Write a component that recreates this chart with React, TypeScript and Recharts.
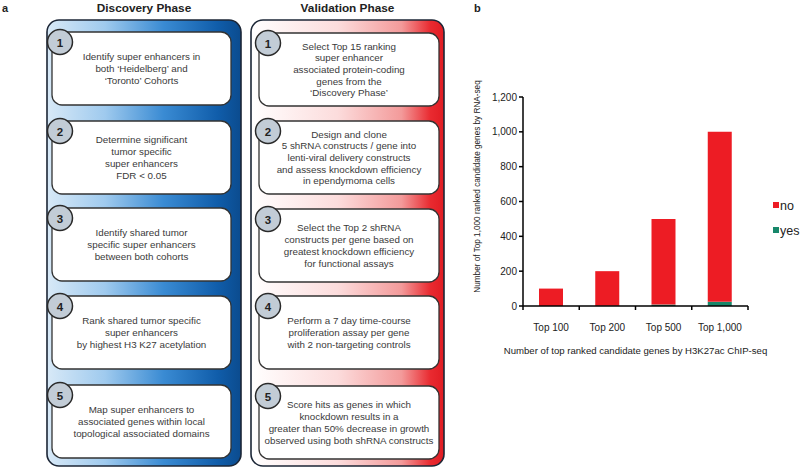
import React from 'react';
import { BarChart, Bar, XAxis, YAxis, Label } from 'recharts';

const categories = ['Top 100', 'Top 200', 'Top 500', 'Top 1,000'];
const yesValues = [0, 1, 8, 24];
const noValues = [100, 199, 492, 976];
const yTicks = [0, 200, 400, 600, 800, 1000, 1200];
const seriesNames = ['no', 'yes'];

const discoverySteps = [
  ['Identify super enhancers in', 'both \u2018Heidelberg\u2019 and', '\u2018Toronto\u2019 Cohorts'],
  ['Determine significant', 'tumor specific', 'super enhancers', 'FDR < 0.05'],
  ['Identify shared tumor', 'specific super enhancers', 'between both cohorts'],
  ['Rank shared tumor specific', 'super enhancers', 'by highest H3 K27 acetylation'],
  ['Map super enhancers to', 'associated genes within local', 'topological associated domains'],
];
const validationSteps = [
  ['Select Top 15 ranking', 'super enhancer', 'associated protein-coding', 'genes from the', '\u2018Discovery Phase\u2019'],
  ['Design and clone', '5 shRNA constructs / gene into', 'lenti-viral delivery constructs', 'and assess knockdown efficiency', 'in ependymoma cells'],
  ['Select the Top 2 shRNA', 'constructs per gene based on', 'greatest knockdown efficiency', 'for functional assays'],
  ['Perform a 7 day time-course', 'proliferation assay per gene', 'with 2 non-targeting controls'],
  ['Score hits as genes in which', 'knockdown results in a', 'greater than 50% decrease in growth', 'observed using both shRNA constructs'],
];

const data = categories.map((c, i) => ({ name: c, yes: yesValues[i], no: noValues[i] }));

const RED = '#ED1C24';
const GREEN = '#17876A';
const FONT = '"Liberation Sans", Arial, Helvetica, sans-serif';

const CatTick = (props: any) => {
  const { x, y, payload, index } = props;
  const half = payload && typeof payload.offset === 'number' && payload.offset > 0 ? payload.offset : 28.1;
  const top = y - 4;
  return (
    <g>
      <line x1={x - half} x2={x - half} y1={top} y2={top + 4} stroke="#000" strokeWidth={1.5} />
      {index === categories.length - 1 && (
        <line x1={x + half} x2={x + half} y1={top} y2={top + 4} stroke="#000" strokeWidth={1.5} />
      )}
      <text x={x} y={top + 24.5} textAnchor="middle" fontSize={10} fill="#222" fontFamily={FONT}>
        {payload.value}
      </text>
    </g>
  );
};

const YLabel = (props: any) => {
  const vb = props.viewBox || { x: 483, y: 97, width: 40, height: 209 };
  const cx = vb.x - 6;
  const cy = vb.y + vb.height / 2 - 15;
  return (
    <text x={cx} y={cy} transform={`rotate(-90 ${cx} ${cy})`} textAnchor="middle" dominantBaseline="central" fontSize={8.2} fill="#222" fontFamily={FONT}>
      Number of Top 1,000 ranked candidate genes by RNA-seq
    </text>
  );
};

function Panel({ x, width, tops, innerX, innerW, steps, grad, title, circleX }: any) {
  const cx = innerX + innerW / 2;
  return (
    <g>
      <text x={x + width / 2} y={12} textAnchor="middle" fontSize={11.8} fontWeight="bold" fill="#222" fontFamily={FONT}>{title}</text>
      <rect x={x} y={20} width={width} height={446} rx={12} ry={12} fill={`url(#${grad})`} stroke="#1c2636" strokeWidth={1.6} />
      {tops.map((t: number, i: number) => {
        const lines = steps[i];
        const lh = 11.7;
        const mid = t + 36.5;
        const start = mid - ((lines.length - 1) * lh) / 2;
        return (
          <g key={i}>
            <rect x={innerX} y={t} width={innerW} height={73} rx={10} ry={10} fill="#fff" stroke="#333" strokeWidth={1.3} />
            {lines.map((l: string, j: number) => (
              <text key={j} x={cx} y={start + j * lh} textAnchor="middle" dominantBaseline="central" fontSize={9.8} fill="#3a3a3a" fontFamily={FONT}>{l}</text>
            ))}
            <circle cx={circleX} cy={t + 10} r={12.5} fill="#c2ccd6" stroke="#2a2a2a" strokeWidth={1.5} />
            <text x={circleX} y={t + 10.5} textAnchor="middle" dominantBaseline="central" fontSize={11.5} fontWeight="bold" fill="#222" fontFamily={FONT}>{i + 1}</text>
          </g>
        );
      })}
    </g>
  );
}

export default function App() {
  return (
    <div style={{ position: 'absolute', left: 0, top: 0, width: 800, height: 468, background: '#fff', overflow: 'hidden' }}>
      <div style={{ position: 'absolute', left: 0, top: 0 }}>
        <BarChart width={800} height={468} data={data} margin={{ top: 97, right: 52, bottom: 112, left: 483 }} barSize={24}>
          <XAxis dataKey="name" tickLine={false} tick={<CatTick />} tickSize={4} tickMargin={0} axisLine={{ stroke: '#000', strokeWidth: 1.5 }} height={50} interval={0}>
            <Label value="Number of top ranked candidate genes by H3K27ac ChIP-seq" position="insideBottom" offset={2} fontSize={9.6} fill="#222" fontFamily={FONT} />
          </XAxis>
          <YAxis width={40} domain={[0, 1200]} ticks={yTicks} interval={0} tickFormatter={(v: number) => v.toLocaleString('en-US')} tick={{ fontSize: 10, fill: '#222', fontFamily: FONT }} tickSize={4} tickMargin={2} tickLine={{ stroke: '#000', strokeWidth: 1.5 }} axisLine={{ stroke: '#000', strokeWidth: 1.5 }}>
            <Label content={<YLabel />} />
          </YAxis>
          <Bar dataKey="yes" stackId="a" fill={GREEN} isAnimationActive={false} />
          <Bar dataKey="no" stackId="a" fill={RED} isAnimationActive={false} />
        </BarChart>
      </div>
      <svg width={800} height={468} style={{ position: 'absolute', left: 0, top: 0, pointerEvents: 'none' }}>
        <defs>
          <linearGradient id="gBlue" x1="0" y1="0" x2="1" y2="0">
            <stop offset="0" stopColor="#d8e9f7" />
            <stop offset="0.3" stopColor="#9fcaee" />
            <stop offset="0.6" stopColor="#3a8bd3" />
            <stop offset="0.88" stopColor="#105daa" />
            <stop offset="1" stopColor="#0b4b8e" />
          </linearGradient>
          <linearGradient id="gRed" x1="0" y1="0" x2="1" y2="0">
            <stop offset="0" stopColor="#ffffff" />
            <stop offset="0.45" stopColor="#fcdcdc" />
            <stop offset="0.78" stopColor="#f39a9a" />
            <stop offset="0.93" stopColor="#e92a30" />
            <stop offset="1" stopColor="#e01c23" />
          </linearGradient>
        </defs>
        <text x={2} y={12} fontSize={11} fontWeight="bold" fill="#222" fontFamily={FONT}>a</text>
        <text x={474} y={12} fontSize={11} fontWeight="bold" fill="#222" fontFamily={FONT}>b</text>
        <Panel x={47} width={194} tops={[32, 121, 208, 296, 385]} innerX={52} innerW={179} steps={discoverySteps} grad="gBlue" title="Discovery Phase" circleX={60} />
        <Panel x={251} width={193} tops={[33, 121, 209, 296, 386]} innerX={259} innerW={180} steps={validationSteps} grad="gRed" title="Validation Phase" circleX={268} />
        {seriesNames.map((n, i) => (
          <g key={n}>
            <rect x={773} y={202 + i * 25} width={6} height={6} fill={n === 'no' ? RED : GREEN} />
            <text x={780} y={205.5 + i * 25} dominantBaseline="central" fontSize={12.5} fill="#222" fontFamily={FONT}>{n}</text>
          </g>
        ))}
      </svg>
    </div>
  );
}
